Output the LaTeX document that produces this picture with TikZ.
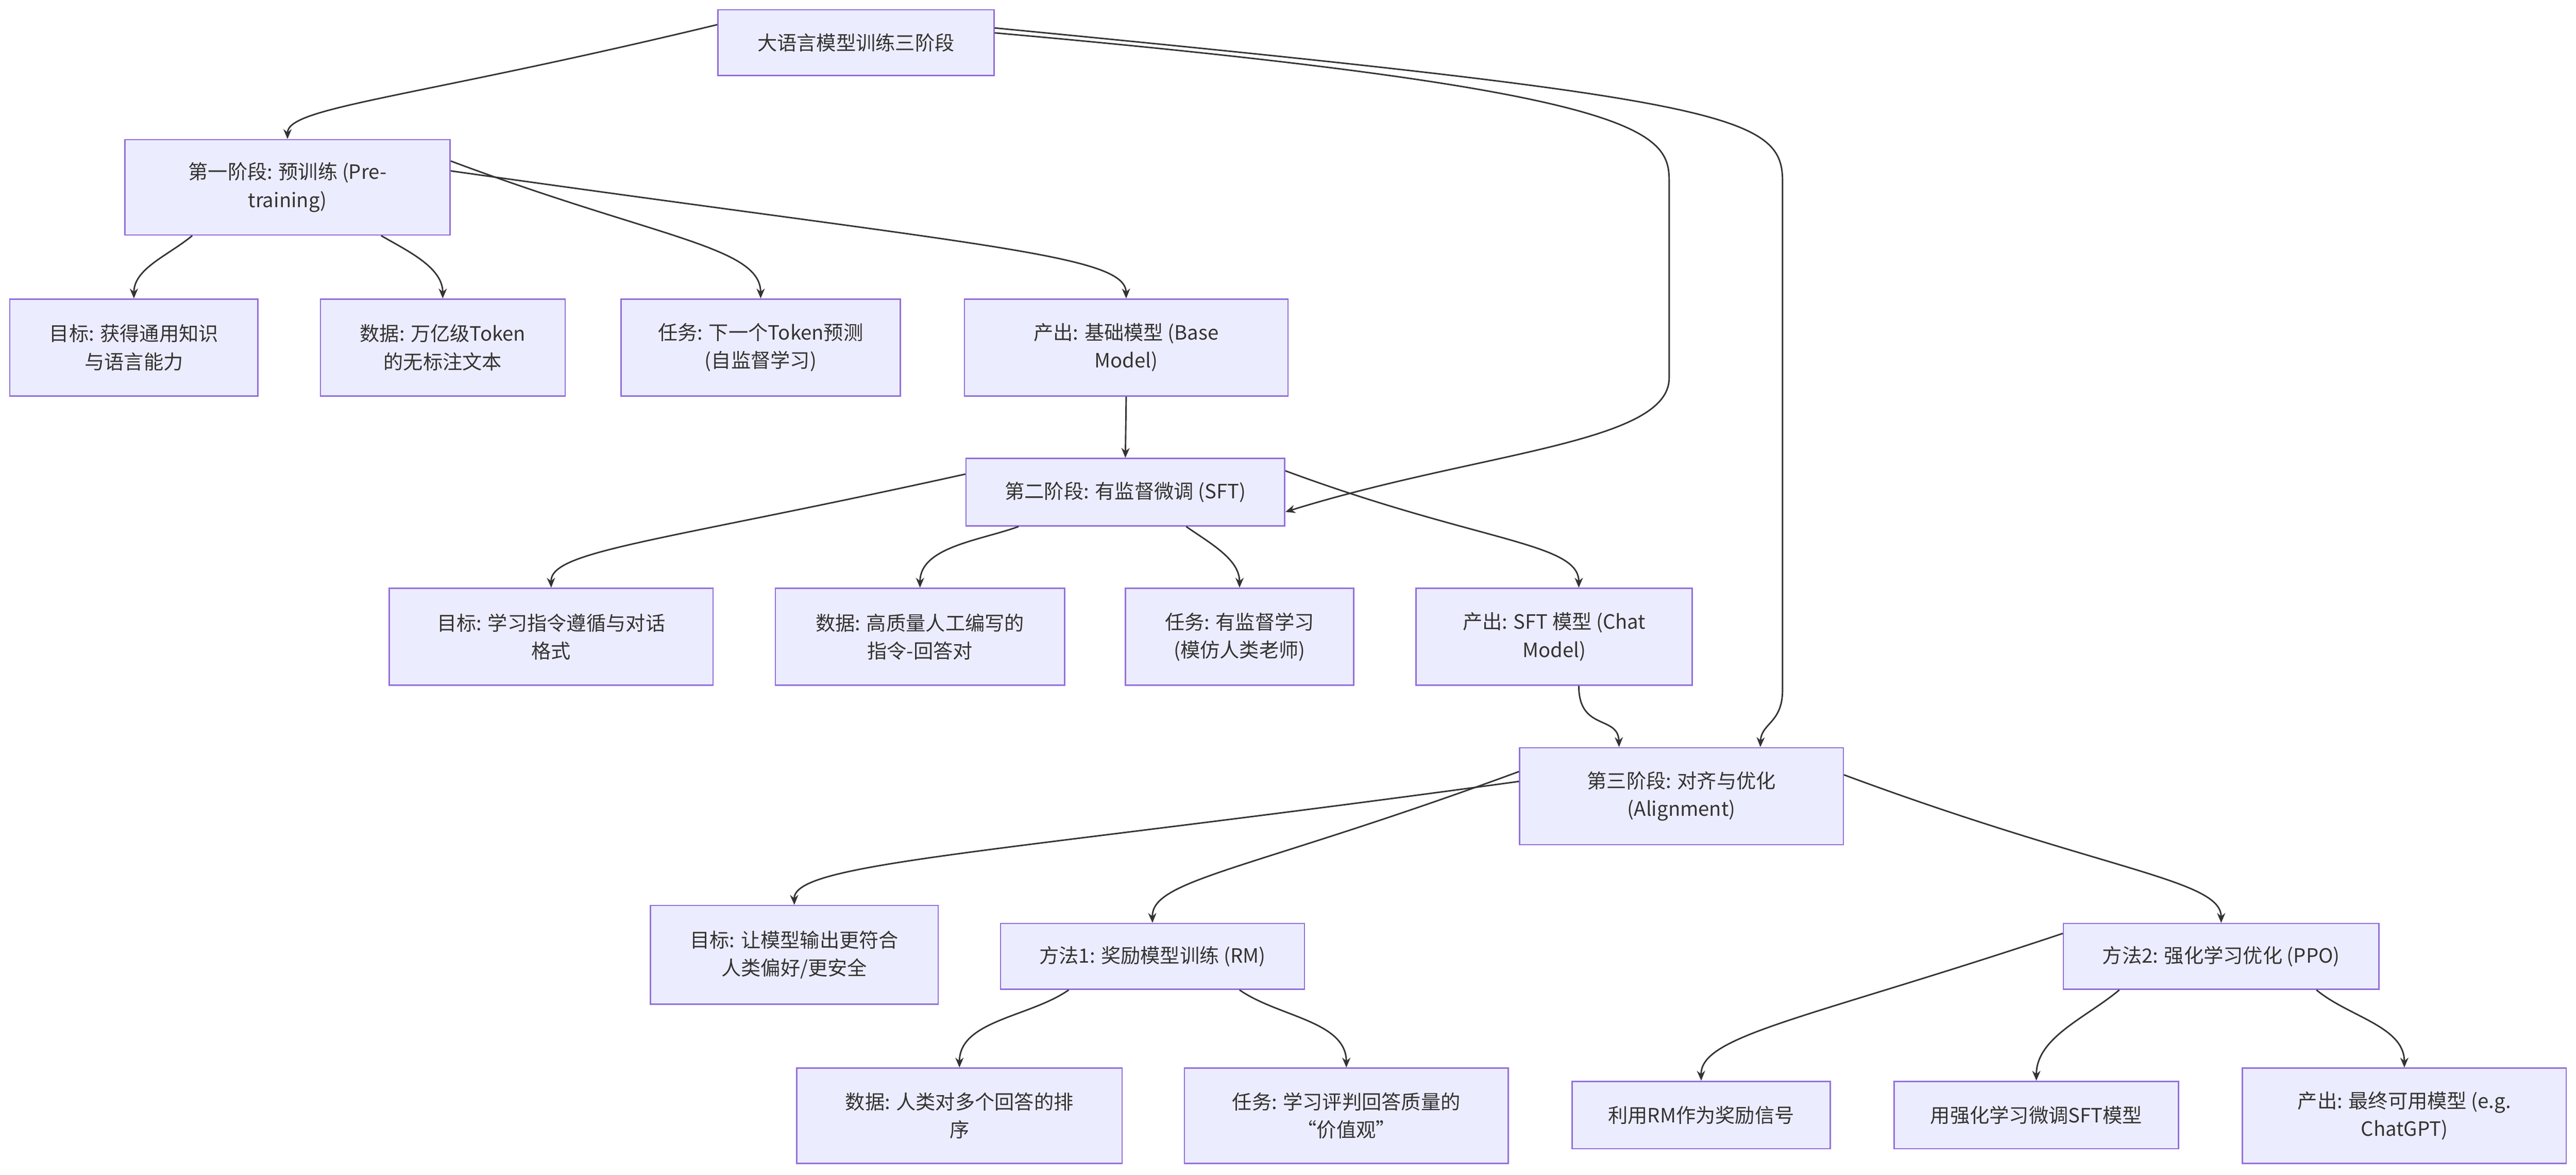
\documentclass[tikz,border=0pt]{standalone}
\usepackage{fontspec}
\setmainfont{Noto Sans CJK SC}
\usetikzlibrary{arrows.meta}
\definecolor{boxfill}{HTML}{ECECFF}
\definecolor{bd}{HTML}{9370DB}
\definecolor{txt}{HTML}{333333}
\tikzset{box/.style={draw=bd, fill=boxfill, line width=0.8pt, align=center, text=txt, font=\fontsize{12}{17}\selectfont, inner sep=0pt},
 a/.style={draw=txt, line width=0.9pt, -{Stealth[length=6pt,width=5pt]}, looseness=0.9}}
\begin{document}
\begin{tikzpicture}[x=1pt,y=-1pt]
\useasboundingbox[fill=white] (0,0) rectangle (1568,715);
\node[box,minimum width=168,minimum height=40] (top) at (521,26) {大语言模型训练三阶段};
\node[box,minimum width=198,minimum height=58] (s1) at (175,114) {第一阶段: 预训练 (Pre-\\training)};
\node[box,minimum width=151,minimum height=59] (g1) at (81.5,211.5) {目标: 获得通用知识\\与语言能力};
\node[box,minimum width=149,minimum height=59] (d1) at (269.5,211.5) {数据: 万亿级Token\\的无标注文本};
\node[box,minimum width=170,minimum height=59] (t1) at (463,211.5) {任务: 下一个Token预测\\(自监督学习)};
\node[box,minimum width=197,minimum height=59] (o1) at (685.5,211.5) {产出: 基础模型 (Base\\Model)};
\node[box,minimum width=194,minimum height=41] (s2) at (685,299.5) {第二阶段: 有监督微调 (SFT)};
\node[box,minimum width=197,minimum height=59] (g2) at (335.5,387.5) {目标: 学习指令遵循与对话\\格式};
\node[box,minimum width=176,minimum height=59] (d2) at (560,387.5) {数据: 高质量人工编写的\\指令-回答对};
\node[box,minimum width=139,minimum height=59] (t2) at (754.5,387.5) {任务: 有监督学习\\(模仿人类老师)};
\node[box,minimum width=168,minimum height=59] (o2) at (946,387.5) {产出: SFT 模型 (Chat\\Model)};
\node[box,minimum width=197,minimum height=59] (s3) at (1023.5,484.5) {第三阶段: 对齐与优化\\(Alignment)};
\node[box,minimum width=175,minimum height=60] (g3) at (483.5,581) {目标: 让模型输出更符合\\人类偏好/更安全};
\node[box,minimum width=185,minimum height=40] (m1) at (701.5,582) {方法1: 奖励模型训练 (RM)};
\node[box,minimum width=192,minimum height=40] (m2) at (1352,582) {方法2: 强化学习优化 (PPO)};
\node[box,minimum width=198,minimum height=58] (d3) at (584,679) {数据: 人类对多个回答的排\\序};
\node[box,minimum width=197,minimum height=58] (t3) at (819.5,679) {任务: 学习评判回答质量的\\“价值观”};
\node[box,minimum width=157,minimum height=41] (r1) at (1035.5,678.5) {利用RM作为奖励信号};
\node[box,minimum width=173,minimum height=41] (r2) at (1239.5,678.5) {用强化学习微调SFT模型};
\node[box,minimum width=197,minimum height=58] (r3) at (1463.5,679) {产出: 最终可用模型 (e.g.\\ChatGPT)};
% edges
\draw[a] ([yshift=11]top.west) .. controls (250,60) and (175,65) .. (s1.north);
\draw[a] ([yshift=6]top.east) .. controls (1000,55) and (1016,80) .. (1016,110) -- (1016,230) .. controls (1016,270) and (900,275) .. ([yshift=-12]s2.east);
\draw[a] ([yshift=9]top.east) .. controls (1050,60) and (1085,70) .. (1085,110) -- (1085,420) .. controls (1085,440) and (1072,440) .. ([xshift=48]s3.north);
\draw[a] ([xshift=-58]s1.south) to[out=-140,in=90] (g1.north);
\draw[a] ([xshift=57]s1.south) to[out=-30,in=90] (d1.north);
\draw[a] ([yshift=16]s1.east) .. controls (400,145) and (463,150) .. (t1.north);
\draw[a] ([yshift=10]s1.east) .. controls (600,150) and (685,155) .. (o1.north);
\draw[a] (o1.south) -- (s2.north);
\draw[a] ([yshift=11]s2.west) .. controls (400,330) and (335,335) .. (g2.north);
\draw[a] ([xshift=-65]s2.south) to[out=-160,in=90] (d2.north);
\draw[a] ([xshift=37]s2.south) to[out=-35,in=90] (t2.north);
\draw[a] ([yshift=13]s2.east) .. controls (900,330) and (961,330) .. ([xshift=15]o2.north);
\draw[a] ([xshift=15]o2.south) .. controls (961,445) and (985,435) .. ([xshift=-38]s3.north);
\draw[a] ([yshift=9]s3.west) .. controls (600,520) and (483,525) .. (g3.north);
\draw[a] ([yshift=15]s3.west) .. controls (760,530) and (701,535) .. (m1.north);
\draw[a] ([yshift=13]s3.east) .. controls (1280,530) and (1352,535) .. (m2.north);
\draw[a] ([xshift=-51]m1.south) to[out=-145,in=90] (d3.north);
\draw[a] ([xshift=53]m1.south) to[out=-35,in=90] (t3.north);
\draw[a] ([yshift=14]m2.west) .. controls (1100,620) and (1035,630) .. (r1.north);
\draw[a] ([xshift=-62]m2.south) to[out=-140,in=90] (r2.north);
\draw[a] ([xshift=58]m2.south) to[out=-40,in=90] (r3.north);
\end{tikzpicture}
\end{document}
